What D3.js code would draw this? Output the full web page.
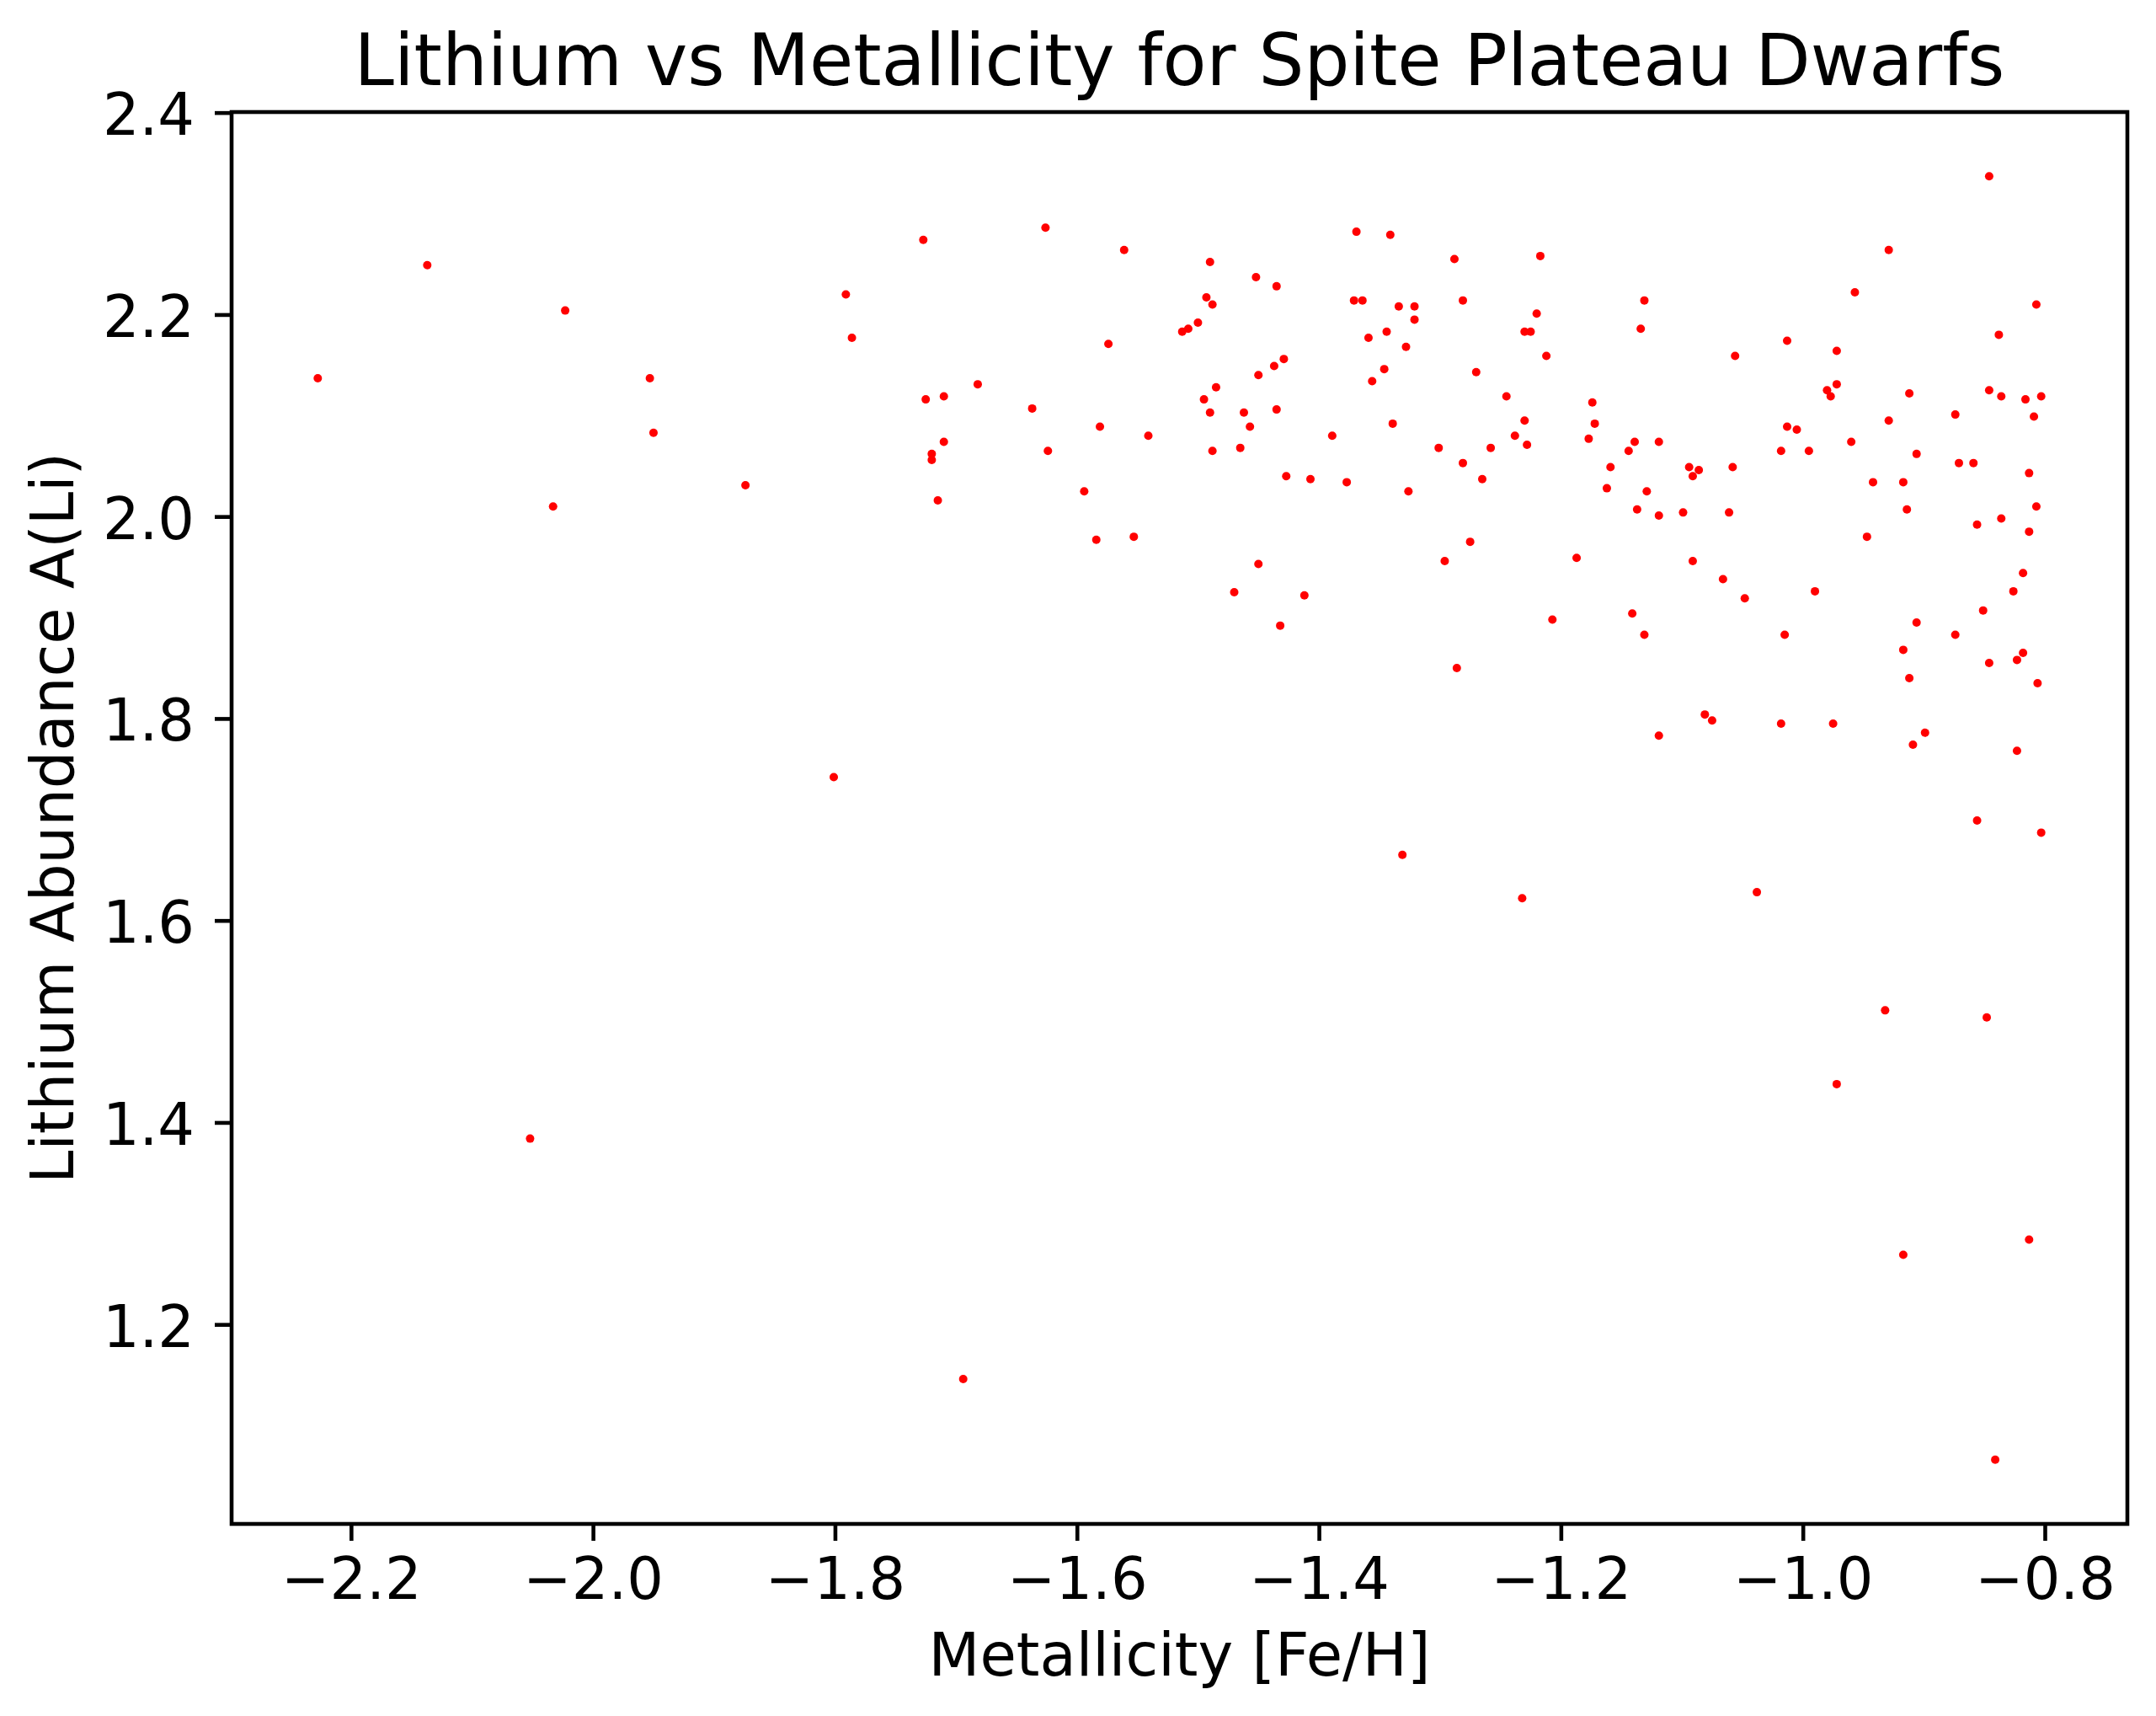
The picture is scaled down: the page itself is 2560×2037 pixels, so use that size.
<!DOCTYPE html>
<meta charset="utf-8">
<style>
  body { margin: 0; background: #fff; }
  text { font-family: "DejaVu Sans", sans-serif; fill: #000; }
</style>

<!-- Load d3.js -->
<script src="https://d3js.org/d3.v7.min.js"></script>

<div id="chart"></div>

<script>
// Star metallicities [Fe/H]
var feH = [
  -2.2275, -2.137, -2.023, -2.033, -1.953, -1.950, -2.052, -1.801, -1.694,
  -1.874, -1.791, -1.786, -1.727, -1.725, -1.710, -1.710, -1.720, -1.720, -1.715,
  -1.682, -1.637, -1.626, -1.624, -1.594, -1.584, -1.581, -1.574, -1.561, -1.553, -1.541,
  -1.369, -1.341, -1.490, -1.288, -1.217, -1.452, -1.435, -1.493, -1.488, -1.371,
  -1.364, -1.334, -1.321, -1.321, -1.281, -1.220, -1.500, -1.508, -1.513, -1.344,
  -1.359, -1.230, -1.225, -1.328, -1.212, -1.429, -1.437, -1.450, -1.346, -1.356,
  -1.270, -1.485, -1.495, -1.245, -1.174, -1.490, -1.462, -1.435, -1.457, -1.339,
  -1.230, -1.172, -1.389, -1.238, -1.177, -1.228, -1.488, -1.465, -1.301, -1.258,
  -1.281, -1.265, -1.427, -1.407, -1.377, -1.326, -1.275, -1.296, -1.187, -1.450,
  -1.470, -1.412, -1.432, -1.207, -1.286, -1.331, -1.232,
  -0.846, -0.929, -0.957, -0.807, -1.131, -1.134, -1.013, -0.972, -0.838, -1.056,
  -0.972, -0.980, -0.977, -0.912, -0.846, -0.836, -0.816, -0.803, -0.874, -0.809,
  -0.929, -1.013, -1.005, -1.139, -1.119, -1.144, -1.018, -0.995, -0.960, -0.906,
  -1.159, -1.094, -1.086, -1.091, -1.058, -0.871, -0.859, -0.813, -1.162, -1.129,
  -0.942, -0.917, -1.137, -1.119, -1.099, -1.061, -0.914, -0.807, -0.856, -0.836,
  -0.813, -0.947, -1.091, -1.066, -0.818, -0.990, -0.826,
  -1.048, -1.141, -1.131, -1.015, -0.851, -0.906, -0.874, -0.917, -0.818, -0.823,
  -0.846, -0.912, -0.806, -1.081, -1.075, -1.119, -1.018, -0.975, -0.899, -0.909,
  -0.823, -0.856, -0.803, -1.038, -0.932, -0.848,
  -0.972, -0.917, -0.813, -0.841
];

// Lithium abundance A(Li), same order as feH
var liAbund = [
  2.137, 2.249, 2.204, 2.010, 2.137, 2.083, 1.384, 1.742, 1.146,
  2.031, 2.220, 2.177, 2.274, 2.116, 2.119, 2.074, 2.062, 2.056, 2.016,
  2.131, 2.107, 2.286, 2.065, 2.025, 1.977, 2.089, 2.171, 2.264, 1.980, 2.080,
  2.282, 2.279, 2.252, 2.255, 2.258, 2.237, 2.228, 2.217, 2.210, 2.214,
  2.214, 2.208, 2.208, 2.195, 2.214, 2.201, 2.192, 2.186, 2.183, 2.183,
  2.177, 2.183, 2.183, 2.168, 2.159, 2.156, 2.149, 2.140, 2.146, 2.134,
  2.143, 2.128, 2.116, 2.119, 2.113, 2.103, 2.103, 2.106, 2.089, 2.092,
  2.095, 2.092, 2.080, 2.080, 2.077, 2.071, 2.065, 2.068, 2.068, 2.068,
  2.053, 2.037, 2.040, 2.037, 2.034, 2.025, 1.975, 1.956, 1.959, 1.953,
  1.925, 1.922, 1.892, 1.898, 1.850, 1.665, 1.622,
  2.337, 2.264, 2.222, 2.210, 2.214, 2.186, 2.174, 2.164, 2.180, 2.159,
  2.131, 2.125, 2.119, 2.122, 2.125, 2.119, 2.116, 2.119, 2.101, 2.099,
  2.095, 2.089, 2.086, 2.074, 2.074, 2.065, 2.065, 2.065, 2.074, 2.062,
  2.049, 2.049, 2.046, 2.040, 2.049, 2.053, 2.053, 2.043, 2.028, 2.025,
  2.034, 2.034, 2.007, 2.001, 2.004, 2.004, 2.007, 2.010, 1.992, 1.998,
  1.985, 1.980, 1.956, 1.938, 1.944, 1.926, 1.926,
  1.919, 1.904, 1.883, 1.883, 1.907, 1.895, 1.883, 1.868, 1.865, 1.858,
  1.855, 1.840, 1.835, 1.804, 1.798, 1.783, 1.795, 1.795, 1.786, 1.774,
  1.768, 1.699, 1.687, 1.628, 1.511, 1.504,
  1.438, 1.269, 1.284, 1.066
];

// Tick values shown on the axes
var xTicks = [-2.2, -2.0, -1.8, -1.6, -1.4, -1.2, -1.0, -0.8];
var yTicks = [1.2, 1.4, 1.6, 1.8, 2.0, 2.2, 2.4];

var stars = feH.map(function(d, i) { return {feh: d, li: liAbund[i]}; });

// Figure size and plot area
var W = 2560, H = 2037;
var margin = {top: 133, right: 34, bottom: 228, left: 275},
    width = W - margin.left - margin.right,
    height = H - margin.top - margin.bottom;

var svg = d3.select("#chart")
  .append("svg")
    .attr("width", W)
    .attr("height", H);

var g = svg.append("g")
    .attr("transform", "translate(" + margin.left + "," + margin.top + ")");

// Autoscale with 5% margins on each side (like matplotlib)
function padded(ext) {
  var r = ext[1] - ext[0];
  return [ext[0] - 0.05 * r, ext[1] + 0.05 * r];
}

var x = d3.scaleLinear()
  .domain(padded(d3.extent(feH)))
  .range([0, width]);

var y = d3.scaleLinear()
  .domain(padded(d3.extent(liAbund)))
  .range([height, 0]);

var fmt = d3.format(".1f");
var tickFont = "68.6px";
var lineW = 4.6;

// X axis
var xAxis = g.append("g")
  .attr("transform", "translate(0," + height + ")")
  .call(d3.axisBottom(x).tickValues(xTicks).tickFormat(fmt)
    .tickSize(20).tickPadding(20).tickSizeOuter(0));
xAxis.select(".domain").remove();
xAxis.selectAll(".tick line").attr("stroke", "#000").attr("stroke-width", lineW);
xAxis.selectAll(".tick text").style("font-size", tickFont)
  .style("font-family", "DejaVu Sans");

// Y axis
var yAxis = g.append("g")
  .call(d3.axisLeft(y).tickValues(yTicks).tickFormat(fmt)
    .tickSize(20).tickPadding(24).tickSizeOuter(0));
yAxis.select(".domain").remove();
yAxis.selectAll(".tick line").attr("stroke", "#000").attr("stroke-width", lineW);
yAxis.selectAll(".tick text").style("font-size", tickFont)
  .style("font-family", "DejaVu Sans")
  .attr("dy", "0.38em");

// Scatter points
g.selectAll("circle")
  .data(stars)
  .enter()
  .append("circle")
    .attr("cx", function(d) { return x(d.feh); })
    .attr("cy", function(d) { return y(d.li); })
    .attr("r", 5)
    .attr("fill", "#ff0000");

// Frame around the plot area
g.append("rect")
  .attr("x", 0)
  .attr("y", 0)
  .attr("width", width)
  .attr("height", height)
  .attr("fill", "none")
  .attr("stroke", "#000")
  .attr("stroke-width", lineW);

// Title
svg.append("text")
  .attr("x", margin.left + width / 2)
  .attr("y", 101)
  .attr("text-anchor", "middle")
  .style("font-size", "85px")
  .text("Lithium vs Metallicity for Spite Plateau Dwarfs");

// X label
svg.append("text")
  .attr("x", margin.left + width / 2)
  .attr("y", 1989)
  .attr("text-anchor", "middle")
  .style("font-size", "70.5px")
  .text("Metallicity [Fe/H]");

// Y label
svg.append("text")
  .attr("transform", "translate(87," + (margin.top + height / 2) + ") rotate(-90)")
  .attr("text-anchor", "middle")
  .style("font-size", "70.5px")
  .text("Lithium Abundance A(Li)");
</script>
